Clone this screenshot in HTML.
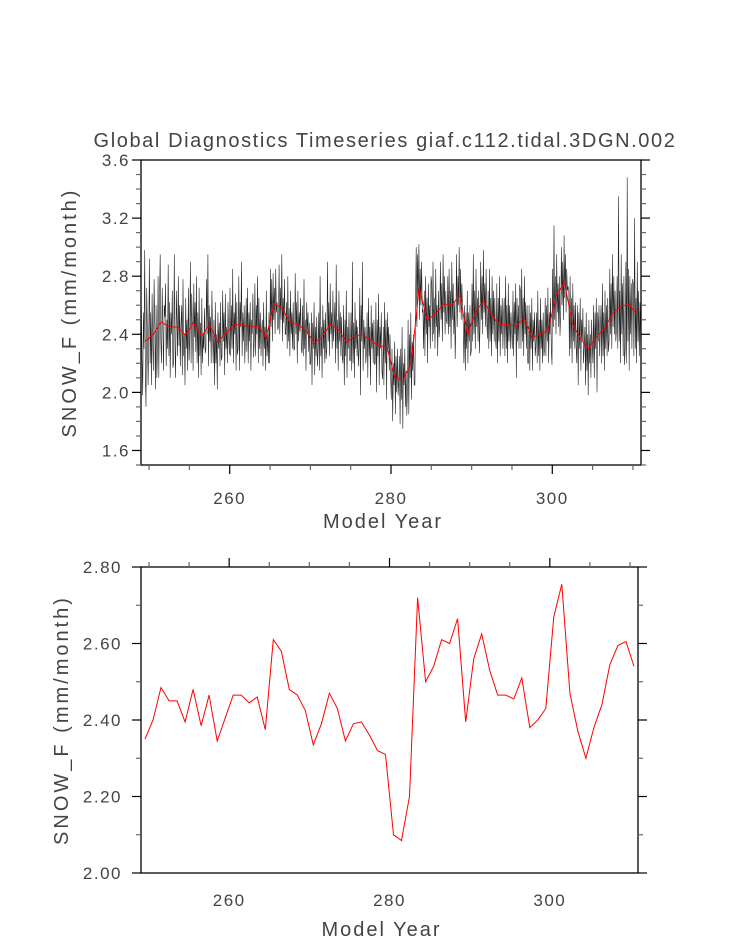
<!DOCTYPE html>
<html><head><meta charset="utf-8"><style>
body{margin:0;background:#fff}
svg text{font-family:"Liberation Sans",sans-serif;fill:#444}
</style></head><body>
<svg id="c" width="733" height="945"></svg>
<script>
const years=[];for(let y=249;y<=310;y++)years.push(y);
const annualValues=[2.35,2.40,2.485,2.45,2.45,2.395,2.48,2.385,2.465,2.345,2.405,2.465,2.465,2.445,2.46,2.375,2.61,2.58,2.48,2.465,2.425,2.335,2.39,2.47,2.43,2.345,2.39,2.395,2.36,2.32,2.31,2.10,2.085,2.20,2.72,2.50,2.54,2.61,2.60,2.665,2.395,2.56,2.625,2.53,2.465,2.465,2.455,2.51,2.38,2.40,2.43,2.67,2.755,2.47,2.37,2.30,2.38,2.44,2.545,2.595,2.605,2.54];
const monthlyValues=[
2.62,2.25,1.98,2.55,2.30,2.98,2.10,1.90,2.72,2.40,2.05,2.35,
2.92,2.20,2.55,2.05,2.68,2.30,2.15,2.78,2.45,2.02,2.60,2.10,
2.30,2.80,2.10,2.65,2.95,2.35,2.20,2.72,2.48,2.15,2.60,2.52,
2.75,2.18,2.50,2.30,2.88,2.25,2.62,2.10,2.55,2.40,2.70,2.17,
2.20,2.95,2.35,2.10,2.70,2.48,2.25,2.80,2.32,2.60,2.18,2.47,
2.60,2.12,2.78,2.25,2.40,2.05,2.65,2.30,2.50,2.15,2.72,2.22,
2.35,2.90,2.20,2.68,2.45,2.15,2.75,2.38,2.62,2.28,2.80,2.20,
2.55,2.10,2.72,2.25,2.48,2.12,2.65,2.20,2.40,2.30,2.58,2.27,
2.30,2.78,2.40,2.95,2.18,2.60,2.35,2.52,2.20,2.70,2.40,2.20,
2.50,2.05,2.62,2.20,2.40,2.02,2.55,2.30,2.48,2.18,2.62,2.22,
2.25,2.70,2.35,2.55,2.12,2.68,2.30,2.45,2.20,2.62,2.38,2.26,
2.72,2.25,2.60,2.30,2.85,2.20,2.55,2.40,2.68,2.15,2.62,2.26,
2.30,2.80,2.15,2.62,2.45,2.90,2.25,2.55,2.35,2.60,2.20,2.41,
2.65,2.28,2.72,2.20,2.55,2.35,2.62,2.15,2.50,2.40,2.68,2.24,
2.35,2.75,2.25,2.60,2.40,2.80,2.20,2.65,2.30,2.55,2.25,2.42,
2.50,2.18,2.62,2.30,2.45,2.15,2.70,2.25,2.40,2.20,2.55,2.20,
2.85,2.45,2.78,2.35,2.82,2.50,2.72,2.40,2.85,2.55,2.62,2.43,
2.45,2.88,2.40,2.72,2.50,2.95,2.35,2.65,2.48,2.78,2.40,2.40,
2.62,2.30,2.80,2.35,2.58,2.25,2.70,2.40,2.55,2.30,2.62,2.29,
2.30,2.82,2.40,2.62,2.20,2.70,2.35,2.55,2.42,2.65,2.30,2.27,
2.60,2.25,2.78,2.30,2.50,2.15,2.62,2.40,2.55,2.28,2.48,2.19,
2.20,2.55,2.05,2.48,2.30,2.62,2.12,2.45,2.25,2.52,2.18,2.30,
2.55,2.15,2.80,2.25,2.45,2.10,2.60,2.30,2.50,2.20,2.55,2.23,
2.30,2.90,2.35,2.62,2.25,2.75,2.40,2.55,2.30,2.70,2.35,2.47,
2.62,2.20,2.88,2.30,2.50,2.15,2.70,2.35,2.55,2.25,2.52,2.24,
2.20,2.60,2.05,2.50,2.25,2.70,2.10,2.45,2.30,2.55,2.22,2.22,
2.55,2.15,2.90,2.20,2.48,2.10,2.62,2.30,2.50,2.25,2.45,2.18,
2.30,2.72,1.98,2.60,2.35,2.90,2.15,2.50,2.30,2.45,2.20,2.29,
2.55,2.10,2.65,2.25,2.45,2.05,2.60,2.30,2.48,2.20,2.50,2.19,
2.20,2.62,2.00,2.50,2.25,2.68,2.05,2.45,2.30,2.55,2.15,2.09,
2.45,2.05,2.62,2.20,2.50,1.95,2.55,2.30,2.45,2.15,2.40,2.10,
1.95,2.30,1.80,2.20,2.05,2.35,1.85,2.25,2.00,2.30,1.98,2.07,
2.25,1.78,2.30,1.95,2.45,1.75,2.20,2.05,2.30,1.90,2.15,1.84,
2.05,2.50,1.85,2.40,2.10,2.55,1.95,2.35,2.15,2.40,2.05,2.05,
2.60,3.00,2.45,2.95,2.65,3.02,2.50,2.85,2.60,2.90,2.55,2.57,
2.30,2.70,2.25,2.80,2.40,2.65,2.20,2.75,2.45,2.60,2.30,2.80,
2.75,2.35,2.90,2.40,2.65,2.30,2.85,2.45,2.60,2.25,2.70,2.38,
2.45,2.90,2.50,2.75,2.35,2.95,2.55,2.80,2.40,2.70,2.50,2.47,
2.80,2.40,2.85,2.45,2.70,2.30,2.90,2.50,2.75,2.40,2.62,2.23,
2.50,2.95,2.45,2.80,2.60,3.00,2.55,2.85,2.50,2.75,2.55,2.48,
2.20,2.60,2.15,2.55,2.30,2.70,2.20,2.55,2.35,2.60,2.25,2.29,
2.75,2.35,2.95,2.40,2.70,2.30,2.85,2.45,2.65,2.35,2.70,2.27,
2.45,2.90,2.50,2.80,2.40,2.98,2.55,2.75,2.45,2.85,2.50,2.37,
2.70,2.30,2.85,2.35,2.65,2.25,2.80,2.40,2.70,2.35,2.65,2.36,
2.30,2.75,2.20,2.65,2.35,2.80,2.25,2.60,2.40,2.65,2.30,2.53,
2.65,2.25,2.80,2.30,2.60,2.20,2.75,2.35,2.60,2.30,2.55,2.43,
2.30,2.70,2.25,2.62,2.40,2.75,2.10,2.65,2.35,2.60,2.30,2.74,
2.70,2.30,2.85,2.35,2.65,2.25,2.80,2.40,2.62,2.30,2.60,2.20,
2.20,2.60,2.15,2.55,2.30,2.65,2.15,2.50,2.35,2.55,2.25,2.31,
2.55,2.20,2.70,2.25,2.50,2.15,2.65,2.30,2.50,2.20,2.55,2.25,
2.30,2.65,2.25,2.60,2.35,2.72,2.20,2.55,2.40,2.65,2.30,2.19,
2.85,2.45,3.15,2.50,2.80,2.40,2.95,2.55,2.75,2.45,2.80,2.39,
2.55,3.00,2.60,2.90,2.50,3.08,2.65,2.95,2.55,2.85,2.70,2.73,
2.70,2.25,2.80,2.30,2.65,2.20,2.75,2.35,2.60,2.30,2.62,2.32,
2.20,2.60,2.05,2.55,2.30,2.65,2.15,2.50,2.35,2.58,2.20,2.31,
2.45,2.05,2.55,2.15,2.40,1.98,2.50,2.20,2.40,2.10,2.50,2.32,
2.20,2.60,2.10,2.55,2.30,2.65,2.00,2.55,2.35,2.60,2.25,2.41,
2.60,2.20,2.75,2.25,2.55,2.15,2.70,2.30,2.60,2.25,2.65,2.28,
2.35,2.85,2.40,2.75,2.30,2.95,2.45,2.80,2.40,2.70,2.35,2.44,
2.80,2.30,3.35,2.35,2.70,2.20,2.95,2.40,2.75,2.25,2.80,2.19,
2.30,2.90,2.20,3.48,2.35,2.85,2.15,2.80,2.40,2.75,2.30,2.78,
2.75,2.25,3.20,2.30,2.65,2.20,2.90,2.35,2.70,2.25,2.62,2.31];
const topYTicks=["1.6","2.0","2.4","2.8","3.2","3.6"];
const botYTicks=["2.00","2.20","2.40","2.60","2.80"];
const xTicks=["260","280","300"];

const NS="http://www.w3.org/2000/svg";
const svg=document.getElementById('c');
function mk(tag,attrs,parent){const e=document.createElementNS(NS,tag);for(const k in attrs)e.setAttribute(k,attrs[k]);(parent||svg).appendChild(e);return e;}
const X0=249,X1=311;
function panel(name,L,R,T,B,ymin,ymax,yticks,ymajor,yminor,xTickTop,xLabelY,xTitleY,yLabelX,yTitleX){
  const g=mk('g',{});
  
  
  const sx=v=>L+(v-X0)/(X1-X0)*(R-L);
  const sy=v=>B-(v-ymin)/(ymax-ymin)*(B-T);
  const fr=mk('rect',{x:L,y:T,width:R-L,height:B-T,fill:'none',stroke:'#000','stroke-width':1.3},g);
  
  
  for(let y=250;y<=310;y+=5){
    const maj=(y%20===0);const len=maj?9:5;const x=sx(y);
    const yy=xTickTop?T:B;const d=xTickTop?-len:len;
    const t=mk('line',{x1:x,x2:x,y1:yy,y2:yy+d,stroke:maj?'#000':'#666','stroke-width':1.2},g);
    
    
  }
  xTicks.forEach(s=>{const t=mk('text',{x:sx(+s),y:xLabelY,'text-anchor':'middle','font-size':17,'letter-spacing':1.5},g);t.textContent=s;
    
    });
  const xt=mk('text',{x:(L+R)/2-8,y:xTitleY,'text-anchor':'middle','font-size':20,'letter-spacing':2},g);xt.textContent='Model Year';
  
  
  for(let v=ymin;v<=ymax+1e-9;v+=yminor){
    const rv=Math.round(v*1000)/1000;
    const maj=Math.abs(rv/ymajor-Math.round(rv/ymajor))<1e-6;const len=maj?9:5;const y=sy(rv);
    [[L,-len],[R,len]].forEach(([x,d])=>{const t=mk('line',{x1:x,x2:x+d,y1:y,y2:y,stroke:maj?'#000':'#666','stroke-width':1.2},g);
      
      });
  }
  yticks.forEach(s=>{const t=mk('text',{x:yLabelX,y:sy(+s)+6,'text-anchor':'end','font-size':17,'letter-spacing':1.5},g);t.textContent=s;
    
    });
  const yt=mk('text',{x:yTitleX,y:(T+B)/2,'text-anchor':'middle','font-size':20,'letter-spacing':3,transform:`rotate(-90 ${yTitleX} ${(T+B)/2})`},g);yt.textContent='SNOW_F (mm/month)';
  
  
  return {g,sx,sy};
}
const p1=panel('top-panel',141,641,160,465,1.5,3.6,topYTicks,0.4,0.1,false,504,528,130,76);
let d='';monthlyValues.forEach((v,i)=>{const yr=years[0]+(i+0.5)/12;d+=(i?'L':'M')+p1.sx(yr).toFixed(1)+','+p1.sy(v).toFixed(1);});
const ml=mk('path',{d,fill:'none',stroke:'#222','stroke-width':0.6},p1.g);


d='';annualValues.forEach((v,i)=>{d+=(i?'L':'M')+p1.sx(years[i]+0.5).toFixed(1)+','+p1.sy(v).toFixed(1);});
const al=mk('path',{d,fill:'none',stroke:'#f00','stroke-width':1},p1.g);


const title=mk('text',{x:385,y:147,'text-anchor':'middle','font-size':20,'letter-spacing':1.6});
title.textContent='Global Diagnostics Timeseries giaf.c112.tidal.3DGN.002';


const p2=panel('bottom-panel',141,638,567,873,2.0,2.8,botYTicks,0.2,0.1,true,906,936,122,68);
d='';annualValues.forEach((v,i)=>{d+=(i?'L':'M')+p2.sx(years[i]+0.5).toFixed(1)+','+p2.sy(v).toFixed(1);});
const bl=mk('path',{d,fill:'none',stroke:'#f00','stroke-width':1},p2.g);


</script>
</body></html>
